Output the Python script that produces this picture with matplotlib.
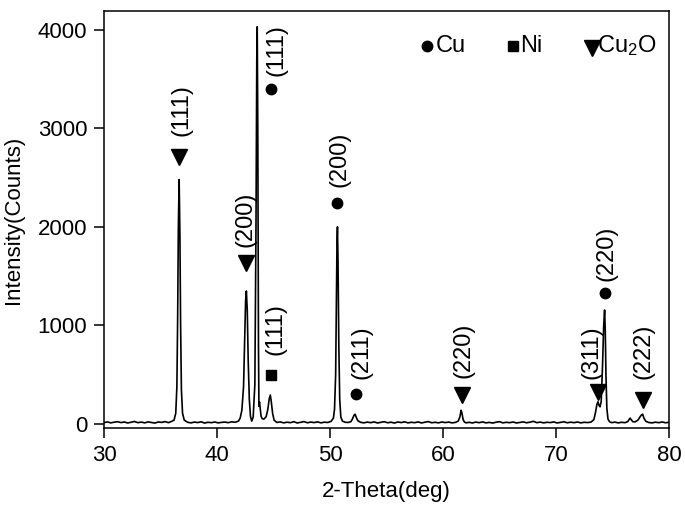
import matplotlib
matplotlib.use("Agg")
import matplotlib.pyplot as plt
import numpy as np

plt.rcParams['font.family'] = ['Liberation Sans', 'DejaVu Sans']
plt.rcParams['mathtext.fontset'] = 'custom'
plt.rcParams['mathtext.rm'] = 'Liberation Sans'
plt.rcParams['mathtext.it'] = 'Liberation Sans:italic'

### XRD pattern ###
two_theta = [
    30.0, 30.3, 30.6, 30.9, 31.2, 31.5, 31.8, 32.1, 32.4, 32.7, 33.0, 33.3, 33.6, 33.9,
    34.2, 34.5, 34.8, 35.1, 35.4, 35.7, 36.0,
    36.2, 36.35, 36.45, 36.52, 36.58, 36.65, 36.72, 36.78, 36.85, 36.95, 37.1,
    37.4, 37.7, 38.0, 38.3, 38.6, 38.9, 39.2, 39.5, 39.8, 40.1, 40.4, 40.7, 41.0, 41.3,
    41.6, 41.9,
    42.05, 42.2, 42.35, 42.45, 42.53, 42.6, 42.68, 42.76, 42.86, 42.96, 43.07, 43.2,
    43.35, 43.45, 43.52, 43.56, 43.61, 43.67, 43.71, 43.76, 43.82, 43.9, 44.0, 44.15,
    44.35, 44.5, 44.62, 44.72, 44.8, 44.92, 45.05,
    45.3, 45.6, 45.9, 46.2, 46.5, 46.8, 47.1, 47.4, 47.7, 48.0, 48.3, 48.6, 48.9, 49.2,
    49.5, 49.8, 50.1,
    50.3, 50.4, 50.5, 50.57, 50.62, 50.66, 50.71, 50.78, 50.86, 50.96, 51.1,
    51.35, 51.6, 51.85, 52.0, 52.12, 52.22, 52.32, 52.45, 52.7,
    53.0, 53.3, 53.6, 53.9, 54.2, 54.5, 54.8, 55.1, 55.4, 55.7, 56.0, 56.3, 56.6, 56.9,
    57.2, 57.5, 57.8, 58.1, 58.4, 58.7, 59.0, 59.3, 59.6, 59.9, 60.2, 60.5, 60.8, 61.1,
    61.35, 61.5, 61.6, 61.68, 61.78, 61.9, 62.05,
    62.3, 62.6, 62.9, 63.2, 63.5, 63.8, 64.1, 64.4, 64.7, 65.0, 65.3, 65.6, 65.9, 66.2,
    66.5, 66.8, 67.1, 67.4, 67.7, 68.0, 68.3, 68.6, 68.9, 69.2, 69.5, 69.8, 70.1, 70.4,
    70.7, 71.0, 71.3, 71.6, 71.9, 72.2, 72.5, 72.8, 73.1,
    73.35, 73.5, 73.62, 73.72, 73.8, 73.9, 74.0, 74.12, 74.22, 74.3, 74.36, 74.42,
    74.5, 74.6, 74.75, 74.95,
    75.2, 75.5, 75.8, 76.1, 76.35, 76.48, 76.56, 76.65, 76.8, 77.0, 77.25, 77.45,
    77.58, 77.67, 77.78, 77.95, 78.2,
    78.5, 78.8, 79.1, 79.4, 79.7, 80.0,
]
counts = [
    14, 22, 12, 19, 24, 15, 21, 11, 18, 26, 14, 20, 12, 22,
    16, 10, 21, 17, 25, 14, 28,
    40, 110, 380, 1100, 2000, 2480, 1900, 1000, 350, 110, 40,
    18, 12, 20, 15, 23, 10, 18, 14, 21, 12, 17, 20, 14, 23,
    18, 30,
    60, 140, 380, 850, 1250, 1350, 1150, 650, 250, 80, 30, 70,
    400, 2000, 3700, 4030, 3000, 800, 180, 225, 160, 80, 55, 50,
    75, 150, 255, 295, 230, 110, 40,
    16, 22, 12, 19, 14, 24, 11, 18, 25, 13, 20, 15, 22, 12,
    19, 16, 28,
    60, 150, 500, 1300, 1850, 2000, 1650, 800, 250, 70, 30,
    18, 16, 24, 55, 88, 100, 70, 35, 18,
    12, 20, 14, 22, 11, 17, 24, 13, 19, 10, 21, 15, 23, 12,
    18, 14, 22, 11, 19, 25, 13, 18, 12, 21, 15, 20, 12, 17,
    30, 75, 140, 110, 45, 20, 12,
    18, 11, 20, 14, 22, 12, 17, 10, 19, 24, 12, 18, 14, 21,
    11, 17, 22, 13, 19, 28, 14, 20, 12, 18, 15, 22, 11, 17,
    23, 13, 19, 14, 21, 12, 18, 15, 20,
    45, 120, 200, 226, 190, 175, 230, 600, 1000, 1157, 950, 500,
    160, 50, 22, 14,
    20, 12, 18, 14, 25, 48, 60, 45, 24, 22, 40, 75,
    95, 100, 60, 28, 16,
    12, 19, 14, 21, 13, 18,
]

### Phase labels: marker x, marker y, label, text x, text y ###
cu_x = [44.75, 50.65, 52.27, 74.33]
cu_y = [3400, 2244, 305, 1330]
cu_hkl = ['(111)', '(200)', '(211)', '(220)']
cu_tx = [45.25, 50.88, 52.8, 74.5]
cu_ty = [3530, 2400, 455, 1450]

ni_x = [44.75]
ni_y = [497]
ni_hkl = ['(111)']
ni_tx = [45.2]
ni_ty = [705]

cu2o_x = [36.65, 42.53, 61.7, 73.75, 77.67]
cu2o_y = [2710, 1635, 294, 328, 244]
cu2o_hkl = ['(111)', '(200)', '(220)', '(311)', '(222)']
cu2o_tx = [36.85, 42.5, 61.8, 73.1, 77.72]
cu2o_ty = [2920, 1800, 465, 455, 455]

fig = plt.figure(figsize=(6.85, 5.11), dpi=100)
ax = fig.add_axes([104/685, 1 - 428/511, (669 - 104)/685, (428 - 11)/511])

ax.plot(two_theta, counts, color='black', lw=1.2)

fs = 16
afs = 17
ax.plot(cu_x, cu_y, 'o', color='black', ms=7.5)
ax.plot(ni_x, ni_y, 's', color='black', ms=7)
ax.plot(cu2o_x, cu2o_y, 'v', color='black', ms=11)
for xs, ys, labs in [(cu_tx, cu_ty, cu_hkl), (ni_tx, ni_ty, ni_hkl), (cu2o_tx, cu2o_ty, cu2o_hkl)]:
    for tx, ty, lab in zip(xs, ys, labs):
        ax.text(tx, ty, lab, rotation=90, ha='center', va='bottom', fontsize=afs)

# key in the upper right
ax.plot([58.55], [3835], 'o', color='black', ms=7.5)
ax.text(59.4, 3840, 'Cu', va='center', fontsize=afs)
ax.plot([66.2], [3835], 's', color='black', ms=7)
ax.text(66.85, 3840, 'Ni', va='center', fontsize=afs)
ax.plot([73.15], [3815], 'v', color='black', ms=11)
ax.text(73.6, 3840, 'Cu$_2$O', va='center', fontsize=afs)

ax.set_xlim(30, 80)
ax.set_ylim(-40, 4190)
ax.set_xticks([30, 40, 50, 60, 70, 80])
ax.set_yticks([0, 1000, 2000, 3000, 4000])
ax.tick_params(direction='out', length=7, width=1.1, labelsize=fs, pad=5)
for s in ax.spines.values():
    s.set_linewidth(1.1)
ax.set_xlabel('2-Theta(deg)', fontsize=fs, labelpad=11)
ax.set_ylabel('Intensity(Counts)', fontsize=fs, labelpad=10)

fig.savefig('out.png', dpi=100)
